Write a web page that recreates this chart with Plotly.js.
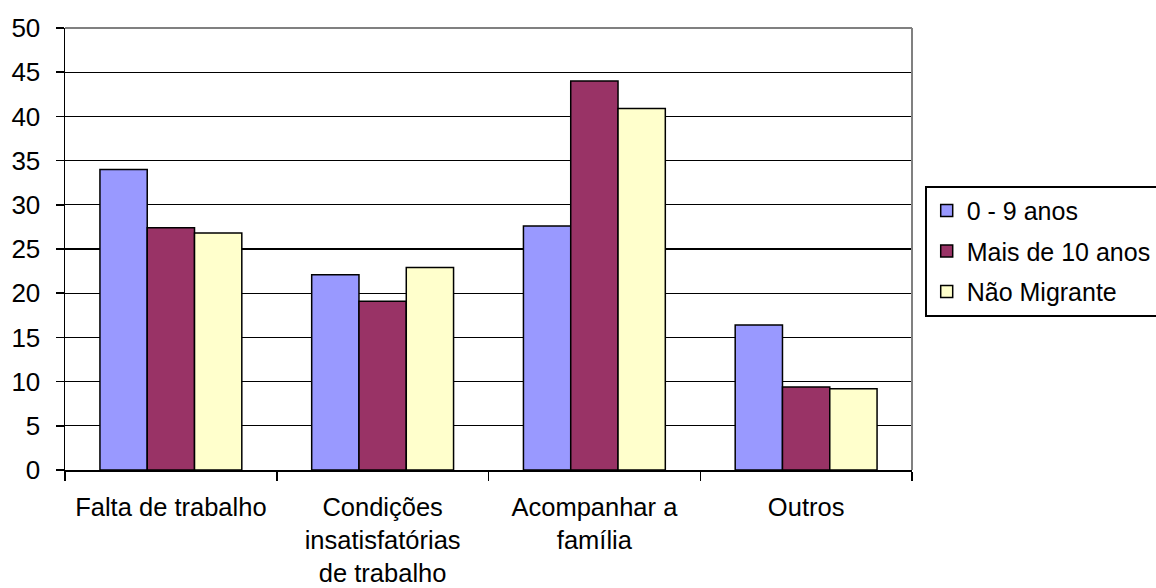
<!DOCTYPE html>
<html>
<head>
<meta charset="utf-8">
<script src="https://cdn.plot.ly/plotly-3.0.1.min.js"></script>
<style>
  html, body { margin: 0; padding: 0; background: #fff; }
  #chart { width: 1156px; height: 588px; }
</style>
</head>
<body>
<div id="chart"></div>
<script>
// Motivos da migração por tempo de residência (%)
const categories = [
  "Falta de trabalho",
  "Condições<br>insatisfatórias<br>de trabalho",
  "Acompanhar a<br>família",
  "Outros"
];
const seriesNames = ["0 - 9 anos", "Mais de 10 anos", "Não Migrante"];
const valores0a9 = [34.0, 22.1, 27.6, 16.4];
const valoresMais10 = [27.4, 19.1, 44.0, 9.4];
const valoresNaoMigrante = [26.8, 22.9, 40.9, 9.2];
const yTicks = [0, 5, 10, 15, 20, 25, 30, 35, 40, 45, 50];

const colors = ["#9999FF", "#993366", "#FFFFCC"];
const allValues = [valores0a9, valoresMais10, valoresNaoMigrante];

const traces = allValues.map((vals, i) => ({
  type: "bar",
  name: seriesNames[i],
  x: categories,
  y: vals,
  legendgroup: "g" + i,
  marker: { color: colors[i], line: { color: "#000000", width: 1.5 } },
  hoverinfo: "skip"
}));

const fontFamily = "Liberation Sans, Arial, sans-serif";
const yFont = { family: fontFamily, size: 26, color: "#000000" };
const xFont = { family: fontFamily, size: 25.5, color: "#000000" };

const layout = {
  width: 1156,
  height: 588,
  margin: { l: 65, r: 244, t: 28, b: 118, autoexpand: false },
  paper_bgcolor: "#ffffff",
  plot_bgcolor: "#ffffff",
  font: yFont,
  barmode: "group",
  bargap: 0.33,
  bargroupgap: 0,
  showlegend: true,
  legend: {
    x: 1.015, xref: "paper", xanchor: "left",
    y: 0.643, yref: "paper", yanchor: "top",
    bordercolor: "#000000", borderwidth: 2,
    bgcolor: "#ffffff",
    font: { family: fontFamily, size: 25, color: "#000000" },
    traceorder: "grouped",
    tracegroupgap: 5,
    itemwidth: 30
  },
  xaxis: {
    type: "category",
    tickson: "boundaries",
    ticks: "outside",
    ticklen: 9,
    tickwidth: 1.5,
    tickcolor: "#000000",
    showline: true,
    linecolor: "#000000",
    linewidth: 1.5,
    showgrid: false,
    zeroline: false,
    tickfont: xFont,
    ticklabelstandoff: 14,
    fixedrange: true
  },
  yaxis: {
    range: [0, 50],
    tickvals: yTicks,
    ticktext: yTicks.map(String),
    ticks: "outside",
    ticklen: 8,
    tickwidth: 1.5,
    tickcolor: "#000000",
    showline: true,
    linecolor: "#000000",
    linewidth: 1.5,
    showgrid: true,
    gridcolor: "#000000",
    gridwidth: 1.3,
    zeroline: false,
    tickfont: yFont,
    ticklabelstandoff: 10,
    fixedrange: true
  },
  shapes: [
    // grey frame on the top and right of the plot area
    { type: "line", xref: "paper", yref: "paper", x0: 0, x1: 1, y0: 1, y1: 1,
      line: { color: "#808080", width: 2 }, layer: "above" },
    { type: "line", xref: "paper", yref: "paper", x0: 1, x1: 1, y0: 0, y1: 1,
      line: { color: "#808080", width: 2 }, layer: "above" }
  ]
};

Plotly.newPlot("chart", traces, layout, { displayModeBar: false, staticPlot: true });
</script>
</body>
</html>
